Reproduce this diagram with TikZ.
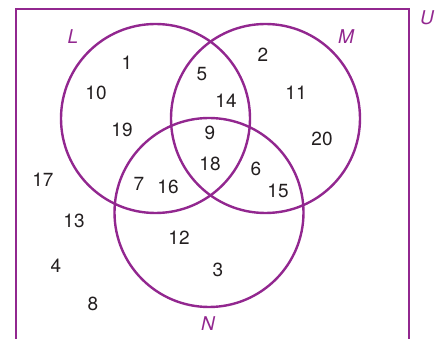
\documentclass[tikz,border=0pt]{standalone}
\usepackage{fontspec}
\setmainfont{TeX Gyre Heros}
\definecolor{vennpurple}{HTML}{92278F}
\definecolor{numgray}{HTML}{231F20}
\tikzset{
  setline/.style={vennpurple, line width=2.4pt},
  num/.style={inner sep=0pt, text=numgray, font=\fontsize{19}{22}\selectfont},
  setname/.style={inner sep=0pt, text=vennpurple, font=\fontsize{19}{22}\selectfont\itshape}
}

\begin{document}
\begin{tikzpicture}[x=1pt,y=-1pt]
\useasboundingbox (0,0) rectangle (440,339);
% universal set
\draw[setline] (16,339) -- (16,9) -- (409,9) -- (409,339);
\node[setname] (nameU) at (427,18) {U};
% circles
\draw[setline] (155.5,118.5) circle (94.5);
\draw[setline] (265.5,118.5) circle (94.5);
\draw[setline] (209,212.5) circle (94.5);
\node[setname] (nameL) at (73,37) {L};
\node[setname] (nameM) at (346,37) {M};
\node[setname] (nameN) at (208,324) {N};
% elements
\foreach \n/\px/\py in {1/127/63, 10/96/93, 19/122/130, 5/202/74, 14/226/101,
    9/210/133, 18/210/164, 2/263/55, 11/296/93, 20/322/139, 6/256/169,
    15/278/191, 7/139/184, 16/168/187, 12/179/238, 3/218/270,
    17/43/180, 13/74/221, 4/56/266, 8/93/304}
  \node[num] (e\n) at (\px,\py) {\n};
\end{tikzpicture}
\end{document}
